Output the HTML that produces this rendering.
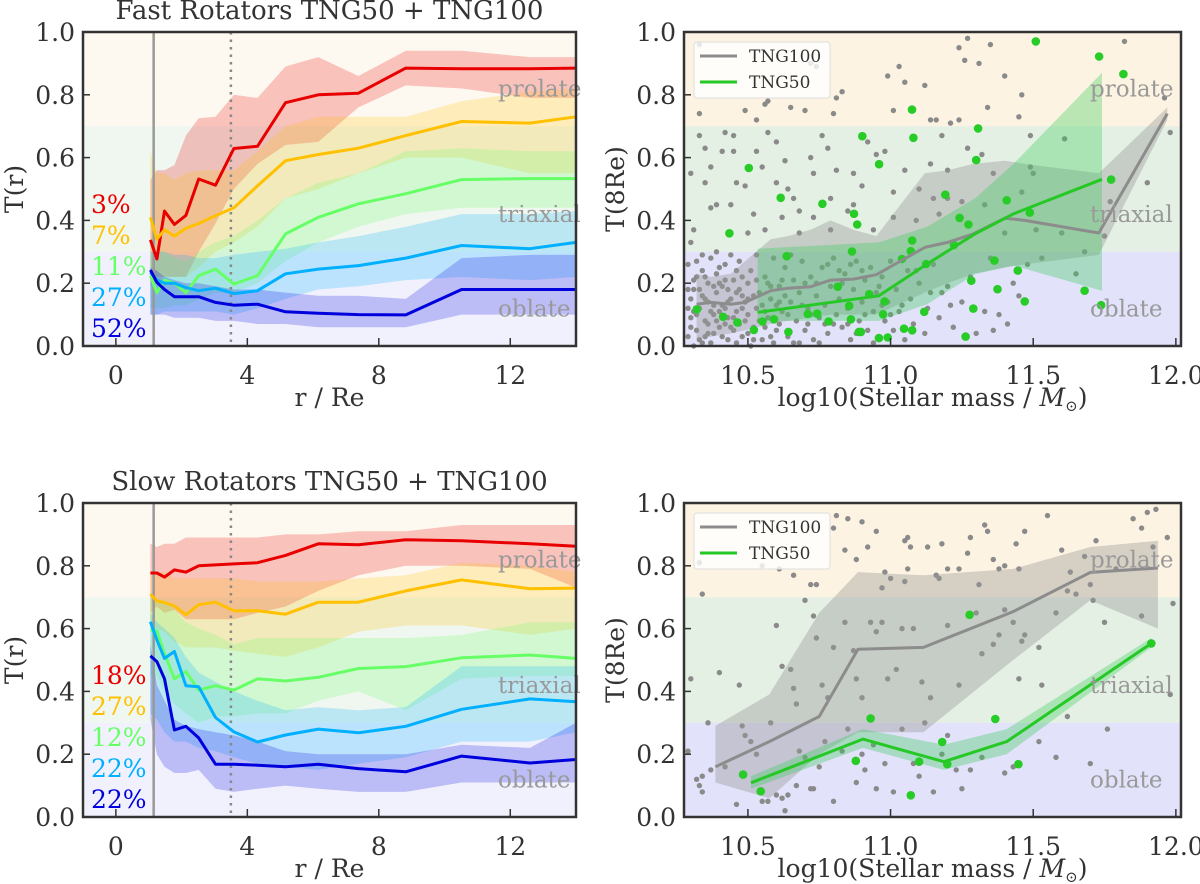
<!DOCTYPE html>
<html><head><meta charset="utf-8"><style>
body{margin:0;background:#fff}
svg{display:block;font-family:"DejaVu Serif","Liberation Serif",serif}
</style></head><body>
<svg id="fig" width="1200" height="884" viewBox="0 0 1200 884" xmlns="http://www.w3.org/2000/svg"></svg>
<script>
// ---------- data ----------
const radii = [1.05,1.25,1.48,1.78,2.13,2.52,3.03,3.59,4.31,5.16,6.16,7.38,8.82,10.52,12.6,14.0];
const seriesColors = ['#e80000','#ffc000','#66ff66','#00b0ff','#0000dd'];
const fastPct = ['3%','7%','11%','27%','52%'];
const slowPct = ['18%','27%','12%','22%','22%'];
const fastMed = [
 [0.338,0.277,0.43,0.387,0.416,0.532,0.512,0.629,0.636,0.775,0.80,0.805,0.885,0.883,0.883,0.885],
 [0.41,0.34,0.37,0.35,0.375,0.39,0.415,0.44,0.51,0.59,0.61,0.63,0.67,0.715,0.71,0.73],
 [0.224,0.17,0.21,0.20,0.17,0.224,0.245,0.197,0.224,0.357,0.41,0.453,0.485,0.53,0.533,0.533],
 [0.235,0.21,0.20,0.20,0.186,0.176,0.184,0.167,0.176,0.23,0.245,0.256,0.28,0.32,0.31,0.33],
 [0.242,0.203,0.18,0.157,0.157,0.157,0.139,0.13,0.133,0.109,0.104,0.10,0.099,0.18,0.18,0.18]];
const fastHi = [
 [0.53,0.56,0.56,0.576,0.67,0.725,0.73,0.80,0.79,0.89,0.92,0.86,0.94,0.94,0.92,0.92],
 [0.62,0.55,0.55,0.53,0.55,0.56,0.56,0.56,0.62,0.70,0.73,0.73,0.73,0.78,0.81,0.82],
 [0.30,0.30,0.30,0.28,0.27,0.30,0.33,0.35,0.40,0.47,0.52,0.55,0.62,0.63,0.62,0.62],
 [0.30,0.30,0.30,0.29,0.29,0.28,0.28,0.29,0.30,0.31,0.33,0.35,0.38,0.42,0.42,0.43],
 [0.25,0.24,0.22,0.21,0.20,0.20,0.19,0.18,0.18,0.17,0.16,0.16,0.15,0.28,0.29,0.29]];
const fastLo = [
 [0.19,0.22,0.22,0.22,0.22,0.30,0.39,0.50,0.58,0.64,0.65,0.76,0.83,0.82,0.79,0.79],
 [0.24,0.20,0.22,0.22,0.22,0.25,0.30,0.33,0.38,0.47,0.50,0.55,0.60,0.60,0.55,0.55],
 [0.12,0.12,0.12,0.13,0.13,0.15,0.17,0.17,0.20,0.27,0.33,0.38,0.42,0.44,0.44,0.44],
 [0.10,0.10,0.11,0.11,0.11,0.11,0.11,0.10,0.12,0.15,0.18,0.19,0.21,0.22,0.21,0.22],
 [0.10,0.10,0.10,0.09,0.09,0.09,0.08,0.08,0.07,0.07,0.06,0.06,0.06,0.10,0.10,0.10]];
const slowMed = [
 [0.777,0.777,0.764,0.787,0.78,0.80,0.803,0.806,0.81,0.833,0.87,0.867,0.883,0.88,0.87,0.862],
 [0.71,0.688,0.683,0.672,0.644,0.676,0.684,0.657,0.657,0.646,0.684,0.684,0.72,0.755,0.727,0.729],
 [0.596,0.593,0.52,0.44,0.463,0.404,0.418,0.404,0.44,0.433,0.445,0.473,0.479,0.507,0.516,0.505],
 [0.622,0.564,0.505,0.527,0.418,0.415,0.317,0.271,0.239,0.261,0.28,0.268,0.289,0.343,0.376,0.367],
 [0.513,0.495,0.44,0.277,0.289,0.252,0.168,0.168,0.165,0.16,0.168,0.154,0.144,0.194,0.172,0.183]];
const slowHi = [
 [0.87,0.86,0.87,0.87,0.89,0.89,0.89,0.89,0.89,0.90,0.90,0.91,0.91,0.93,0.93,0.93],
 [0.77,0.78,0.78,0.76,0.76,0.76,0.76,0.76,0.75,0.75,0.75,0.76,0.77,0.81,0.80,0.78],
 [0.70,0.69,0.69,0.66,0.62,0.60,0.58,0.55,0.57,0.57,0.57,0.57,0.57,0.58,0.62,0.62],
 [0.65,0.62,0.60,0.57,0.51,0.46,0.43,0.40,0.37,0.34,0.35,0.34,0.35,0.48,0.48,0.48],
 [0.55,0.42,0.37,0.31,0.29,0.28,0.27,0.26,0.24,0.21,0.20,0.20,0.20,0.23,0.22,0.30]];
const slowLo = [
 [0.65,0.67,0.65,0.66,0.63,0.63,0.63,0.63,0.65,0.67,0.72,0.77,0.80,0.80,0.79,0.73],
 [0.61,0.60,0.59,0.56,0.54,0.54,0.54,0.53,0.52,0.51,0.54,0.59,0.61,0.61,0.58,0.60],
 [0.45,0.45,0.40,0.36,0.33,0.30,0.32,0.32,0.33,0.33,0.37,0.40,0.34,0.44,0.45,0.45],
 [0.33,0.31,0.27,0.24,0.24,0.22,0.21,0.19,0.17,0.16,0.15,0.17,0.19,0.24,0.24,0.27],
 [0.31,0.20,0.16,0.14,0.14,0.15,0.09,0.08,0.09,0.10,0.09,0.08,0.08,0.11,0.11,0.11]];

const fTng100Mass = [10.32,10.37,10.44,10.49,10.58,10.64,10.72,10.79,10.87,10.95,11.12,11.2,11.29,11.4,11.47,11.73,11.97];
const fTng100Med = [0.133,0.139,0.133,0.139,0.176,0.184,0.189,0.21,0.213,0.227,0.314,0.33,0.357,0.407,0.40,0.36,0.74];
const fTng100Hi = [0.23,0.22,0.23,0.27,0.34,0.35,0.37,0.40,0.37,0.35,0.55,0.56,0.58,0.59,0.58,0.55,0.76];
const fTng100Lo = [0.02,0.03,0.04,0.05,0.07,0.08,0.09,0.10,0.10,0.10,0.17,0.20,0.23,0.25,0.26,0.29,0.72];
const fTng50Mass = [10.534,10.959,11.128,11.296,11.431,11.741];
const fTng50Med = [0.107,0.16,0.261,0.357,0.421,0.531];
const fTng50Hi = [0.31,0.33,0.38,0.47,0.58,0.87];
const fTng50Lo = [0.08,0.08,0.133,0.229,0.256,0.176];
const fGreenPts = [[10.321,0.117],[10.413,0.093],[10.463,0.075],[10.521,0.051],[10.551,0.078],[10.591,0.085],[10.642,0.045],[10.435,0.359],[10.503,0.567],[10.615,0.472],[10.636,0.286],[10.71,0.102],[10.743,0.103],[10.761,0.453],[10.783,0.078],[10.815,0.189],[10.861,0.085],[10.855,0.128],[10.865,0.301],[10.872,0.421],[10.883,0.387],[10.901,0.668],[10.889,0.045],[10.896,0.045],[10.925,0.165],[10.959,0.025],[10.96,0.579],[10.979,0.142],[10.99,0.027],[10.974,0.101],[11.04,0.277],[11.047,0.055],[11.071,0.302],[11.076,0.336],[11.075,0.753],[11.08,0.663],[11.076,0.05],[11.118,0.109],[11.125,0.261],[11.192,0.482],[11.222,0.322],[11.242,0.408],[11.273,0.387],[11.283,0.208],[11.29,0.119],[11.263,0.03],[11.3,0.592],[11.307,0.693],[11.364,0.272],[11.375,0.181],[11.407,0.464],[11.446,0.24],[11.47,0.142],[11.488,0.425],[11.509,0.970],[11.68,0.176],[11.731,0.922],[11.738,0.13],[11.773,0.53],[11.816,0.866]];
const fGrayPts = [[10.33,0.96],[10.33,0.74],[10.49,0.75],[10.53,0.72],[10.56,0.77],[10.57,0.78],[10.65,0.76],[10.70,0.75],[10.72,0.90],[10.74,0.89],[10.80,0.74],[10.81,0.79],[10.83,0.81],[10.99,0.86],[11.03,0.89],[11.05,0.84],[11.12,0.83],[11.01,0.75],[11.14,0.72],[11.16,0.72],[11.24,0.95],[11.27,0.98],[11.26,0.91],[11.31,0.90],[11.35,0.96],[11.40,0.86],[11.34,0.76],[11.45,0.73],[11.46,0.80],[11.24,0.72],[11.21,0.71],[11.61,0.66],[11.49,0.67],[11.96,0.79],[11.82,0.97],[11.9,0.52],[11.98,0.68],[11.75,0.35],[11.77,0.46],[11.68,0.30],[11.65,0.23],[11.53,0.28],[11.50,0.55],[11.41,0.07],[11.36,0.05],[11.45,0.16],[11.33,0.11],[11.21,0.13],[11.18,0.17],[11.36,0.55],[11.20,0.56],[11.18,0.67],[11.20,0.47],
[10.35,0.63],[10.35,0.52],[10.37,0.57],[10.39,0.45],[10.41,0.62],[10.42,0.68],[10.45,0.67],[10.45,0.62],[10.46,0.52],[10.49,0.51],[10.5,0.36],[10.53,0.62],[10.55,0.57],[10.57,0.68],[10.6,0.65],[10.6,0.52],[10.63,0.59],[10.64,0.50],[10.66,0.47],[10.68,0.43],[10.72,0.60],[10.73,0.55],[10.76,0.67],[10.78,0.63],[10.79,0.47],[10.81,0.56],[10.85,0.43],[10.87,0.55],[10.9,0.51],[10.92,0.65],[10.95,0.61],[10.98,0.62],[11.01,0.49],[11.05,0.56],[11.10,0.50],[11.14,0.58],[11.15,0.47],[11.27,0.63],[11.32,0.61],[11.49,0.57],[11.46,0.49],[10.33,0.67],[10.30,0.55],[10.31,0.37],[10.37,0.44],[10.44,0.45],[10.52,0.42],[10.56,0.37],[10.62,0.41],[10.68,0.36],[10.73,0.41],[10.79,0.37],[10.87,0.45],[10.94,0.37],[11.01,0.41],[11.09,0.40],[11.17,0.42],[11.25,0.46],[11.33,0.45],[11.4,0.36],[11.51,0.37],[11.6,0.36],
[10.29,0.03],[10.30,0.09],[10.30,0.15],[10.31,0.21],[10.29,0.26],[10.32,0.05],[10.33,0.12],[10.33,0.18],[10.34,0.24],[10.34,0.01],[10.35,0.08],[10.36,0.14],[10.36,0.20],[10.37,0.28],[10.38,0.04],[10.38,0.10],[10.39,0.17],[10.39,0.23],[10.40,0.06],[10.41,0.13],[10.41,0.19],[10.42,0.26],[10.43,0.02],[10.43,0.09],[10.44,0.15],[10.45,0.21],[10.45,0.05],[10.46,0.11],[10.47,0.18],[10.47,0.27],[10.48,0.03],[10.49,0.08],[10.49,0.14],[10.50,0.20],[10.51,0.24],[10.52,0.06],[10.53,0.12],[10.54,0.17],[10.55,0.02],[10.56,0.22],[10.57,0.09],[10.58,0.15],[10.59,0.28],[10.60,0.05],[10.61,0.19],[10.62,0.11],[10.63,0.25],[10.64,0.03],[10.65,0.14],[10.66,0.21],[10.67,0.08],[10.68,0.17],[10.69,0.27],[10.70,0.05],[10.71,0.12],[10.72,0.22],[10.73,0.02],[10.74,0.16],[10.75,0.09],[10.76,0.25],[10.77,0.13],[10.78,0.04],[10.79,0.19],[10.80,0.28],[10.81,0.10],[10.82,0.15],[10.83,0.06],[10.84,0.23],[10.85,0.12],[10.86,0.02],[10.87,0.18],[10.88,0.27],[10.89,0.08],[10.90,0.14],[10.91,0.21],[10.92,0.05],[10.93,0.25],[10.94,0.11],[10.95,0.17],[10.96,0.03],[10.97,0.22],[10.98,0.08],[10.99,0.14],[11.00,0.27],[11.01,0.05],[11.02,0.18],[11.03,0.11],[11.05,0.02],[11.06,0.24],[11.07,0.15],[11.08,0.07],[11.10,0.20],[11.12,0.04],[11.13,0.12],[11.15,0.26],[11.17,0.09],[11.20,0.19],[11.22,0.06],[11.25,0.14],[11.28,0.22],[11.30,0.04],[11.35,0.28],[11.38,0.10],[11.43,0.20],[11.48,0.26],
[10.29,0.12],[10.31,0.00],[10.32,0.27],[10.35,0.03],[10.37,0.11],[10.40,0.25],[10.42,0.07],[10.44,0.29],[10.46,0.01],[10.48,0.16],[10.50,0.10],[10.51,0.00],[10.53,0.29],[10.55,0.13],[10.57,0.20],[10.59,0.01],[10.61,0.07],[10.63,0.16],[10.65,0.29],[10.68,0.01],[10.70,0.20],[10.72,0.10],[10.75,0.01],[10.78,0.26],[10.80,0.07],[10.83,0.20],[10.86,0.26],[10.88,0.04],[10.91,0.10],[10.94,0.01],[10.97,0.13],
[10.30,0.06],[10.31,0.18],[10.32,0.10],[10.33,0.02],[10.34,0.16],[10.35,0.22],[10.36,0.07],[10.37,0.01],[10.38,0.13],[10.39,0.08],[10.40,0.20],[10.41,0.03],[10.42,0.12],[10.43,0.18],[10.44,0.06],[10.46,0.24],[10.47,0.07],[10.48,0.12],[10.50,0.04],[10.52,0.16],[10.54,0.08],[10.56,0.11],[10.58,0.03],[10.60,0.13],[10.62,0.21],
[10.29,0.18],[10.30,0.33],[10.31,0.11],[10.32,0.22],[10.34,0.29],[10.35,0.15],[10.36,0.04],[10.38,0.19],[10.39,0.30],[10.40,0.11],[10.42,0.21],[10.43,0.14],[10.45,0.09],[10.46,0.17],[10.48,0.22],[10.50,0.15],[10.52,0.02],[10.53,0.21],[10.56,0.06],[10.58,0.19],[10.61,0.14],[10.64,0.10],[10.66,0.01],[10.69,0.13],[10.71,0.07],[10.74,0.20],[10.77,0.07],[10.82,0.24],[10.85,0.07],[10.90,0.24],[10.93,0.16],[10.96,0.19],[11.00,0.10],[11.04,0.13],[11.09,0.24],[11.14,0.17]];

const sTng100Mass = [10.386,10.575,10.75,10.886,11.115,11.43,11.70,11.937];
const sTng100Med = [0.16,0.24,0.32,0.534,0.54,0.654,0.779,0.793];
const sTng100Hi = [0.29,0.39,0.65,0.78,0.77,0.79,0.86,0.88];
const sTng100Lo = [0.11,0.06,0.20,0.27,0.27,0.50,0.69,0.60];
const sTng50Mass = [10.511,10.903,11.187,11.407,11.914];
const sTng50Med = [0.109,0.248,0.176,0.24,0.553];
const sTng50Hi = [0.13,0.28,0.23,0.28,0.57];
const sTng50Lo = [0.09,0.22,0.15,0.20,0.54];
const sGreenPts = [[10.483,0.135],[10.545,0.082],[10.878,0.179],[10.93,0.314],[11.071,0.069],[11.1,0.176],[11.181,0.239],[11.199,0.168],[11.277,0.644],[11.367,0.312],[11.448,0.168],[11.914,0.553]];
const sGrayPts = [[10.55,0.80],[10.61,0.79],[10.66,0.77],[10.72,0.74],[10.74,0.74],[10.81,0.96],[10.80,0.92],[10.85,0.95],[10.84,0.85],[10.90,0.94],[10.88,0.82],[10.92,0.86],[10.95,0.91],[10.98,0.78],[11.00,0.76],[10.97,0.73],[11.05,0.88],[11.06,0.89],[11.07,0.86],[11.06,0.79],[11.05,0.75],[11.13,0.86],[11.16,0.77],[11.18,0.87],[11.17,0.76],[11.20,0.79],[11.24,0.79],[11.27,0.84],[11.28,0.89],[11.31,0.74],[11.33,0.93],[11.34,0.91],[11.36,0.82],[11.38,0.79],[11.40,0.80],[11.44,0.87],[11.45,0.79],[11.47,0.91],[11.55,0.96],[11.60,0.85],[11.63,0.78],[11.65,0.71],[11.68,0.83],[11.72,0.88],[11.79,0.79],[11.85,0.95],[11.88,0.92],[11.90,0.97],[11.92,0.86],[11.93,0.98],[11.97,0.89],[11.99,0.68],[11.70,0.74],[11.71,0.69],[10.33,0.81],
[10.30,0.44],[10.34,0.71],[10.40,0.46],[10.47,0.42],[10.60,0.61],[10.62,0.48],[10.65,0.47],[10.66,0.41],[10.67,0.36],[10.70,0.69],[10.73,0.64],[10.74,0.57],[10.76,0.42],[10.78,0.38],[10.80,0.54],[10.84,0.62],[10.87,0.53],[10.88,0.44],[10.90,0.38],[10.93,0.62],[10.95,0.59],[10.97,0.62],[10.99,0.44],[11.02,0.47],[11.04,0.60],[11.08,0.60],[11.11,0.43],[11.14,0.38],[11.20,0.61],[11.24,0.42],[11.30,0.65],[11.32,0.52],[11.36,0.55],[11.40,0.66],[11.43,0.62],[11.46,0.56],[11.52,0.54],[11.58,0.65],[11.62,0.72],[11.75,0.62],[11.88,0.64],[11.98,0.39],[11.45,0.44],[11.53,0.42],[11.38,0.58],[11.47,0.58],
[10.29,0.21],[10.32,0.12],[10.33,0.10],[10.34,0.13],[10.34,0.08],[10.36,0.30],[10.37,0.15],[10.42,0.16],[10.46,0.04],[10.48,0.29],[10.49,0.26],[10.51,0.24],[10.53,0.20],[10.55,0.05],[10.57,0.05],[10.58,0.30],[10.60,0.07],[10.62,0.06],[10.63,0.02],[10.64,0.07],[10.68,0.21],[10.70,0.19],[10.72,0.09],[10.73,0.09],[10.75,0.16],[10.77,0.24],[10.80,0.05],[10.83,0.21],[10.88,0.11],[10.91,0.15],[10.94,0.23],[10.98,0.17],[11.01,0.08],[11.04,0.28],[11.08,0.17],[11.10,0.13],[11.12,0.30],[11.15,0.08],[11.18,0.20],[11.23,0.15],[11.25,0.09],[11.28,0.15],[11.32,0.19],[11.40,0.14],[11.43,0.16],[11.52,0.24],[11.58,0.19],[11.70,0.17],[11.76,0.28],[11.62,0.32],[10.90,0.20],[10.67,0.10],[10.85,0.28],[10.95,0.09],[11.20,0.26]];

const rTicks = [0,4,8,12];
const mTicks = [10.5,11.0,11.5,12.0];
const tTicks = [0.0,0.2,0.4,0.6,0.8,1.0];

// ---------- drawing ----------
const NS = 'http://www.w3.org/2000/svg';
const svg = document.getElementById('fig');
function mk(tag, attrs, parent, text){
  const e = document.createElementNS(NS, tag);
  for (const k in attrs) e.setAttribute(k, attrs[k]);
  if (text !== undefined) e.textContent = text;
  (parent || svg).appendChild(e);
  return e;
}
function panel(x0, y0, x1, y1, xmin, xmax){
  const sx = v => x0 + (v - xmin) / (xmax - xmin) * (x1 - x0);
  const sy = v => y1 - v * (y1 - y0);
  return {x0,y0,x1,y1,sx,sy};
}
function bands(p, cols, name){
  const g = mk('g', {});
  
  
  const lims = [[0.7,1.0],[0.3,0.7],[0.0,0.3]];
  lims.forEach((l,i)=>{
    const r = mk('rect',{x:p.x0,y:p.sy(l[1]),width:p.x1-p.x0,height:p.sy(l[0])-p.sy(l[1]),fill:cols[i]},g);
    
    
  });
}
function area(p, xs, hi, lo, fill, op, name){
  let d = '';
  xs.forEach((x,i)=>{ d += (i?'L':'M') + p.sx(x).toFixed(1)+','+p.sy(hi[i]).toFixed(1); });
  for (let i=xs.length-1;i>=0;i--) d += 'L'+p.sx(xs[i]).toFixed(1)+','+p.sy(lo[i]).toFixed(1);
  const e = mk('path',{d:d+'Z',fill:fill,'fill-opacity':op,stroke:'none'});
  
  
}
function line(p, xs, ys, col, w, name){
  const pts = xs.map((x,i)=>p.sx(x).toFixed(1)+','+p.sy(ys[i]).toFixed(1)).join(' ');
  const e = mk('polyline',{points:pts,fill:'none',stroke:col,'stroke-width':w,'stroke-linejoin':'round'});
  
  
}
function dots(p, pts, col, r, name){
  const g = mk('g',{fill:col});
  
  
  pts.forEach(q=>{
    if (q[0] < 10.28 || q[0] > 12.02) return;
    const c = mk('circle',{cx:p.sx(q[0]).toFixed(1),cy:p.sy(q[1]).toFixed(1),r:r},g);
    
    
  });
}
function frame(p, xt, xl, yl, title, xlabFmt){
  const g = mk('g',{});
  
  
  tTicks.forEach(t=>{
    mk('line',{x1:p.x0,x2:p.x0+7,y1:p.sy(t),y2:p.sy(t),stroke:'#333','stroke-width':1.5},g);
    const tx = mk('text',{x:p.x0-8,y:p.sy(t)+9,'text-anchor':'end','font-size':25,fill:'#333'},g,t.toFixed(1));
    
    
  });
  xt.forEach(t=>{
    mk('line',{x1:p.sx(t),x2:p.sx(t),y1:p.y1,y2:p.y1-8,stroke:'#333','stroke-width':1.5},g);
    const tx = mk('text',{x:p.sx(t),y:p.y1+38,'text-anchor':'middle','font-size':25,fill:'#333'},g,xlabFmt(t));
    
    
  });
  mk('rect',{x:p.x0,y:p.y0,width:p.x1-p.x0,height:p.y1-p.y0,fill:'none',stroke:'#333','stroke-width':2.5},g);
  const xlab = mk('text',{x:(p.x0+p.x1)/2,y:p.y1+60,'text-anchor':'middle','font-size':25,fill:'#333'},g);
  
  
  if (xl === 'mass'){
    xlab.textContent = 'log10(Stellar mass / ';
    mk('tspan',{'font-style':'italic'},xlab,'M');
    mk('tspan',{'font-size':15,dy:5},xlab,'\u2299');
    mk('tspan',{dy:-5},xlab,')');
  } else xlab.textContent = xl;
  const cy = (p.y0+p.y1)/2, cx = p.x0-60;
  const ylab = mk('text',{x:cx,y:cy,'text-anchor':'middle','font-size':25,fill:'#333',transform:'rotate(-90 '+cx+' '+cy+')'},g,yl);
  
  
  if (title){
    const tt = mk('text',{x:(p.x0+p.x1)/2,y:p.y0-13,'text-anchor':'middle','font-size':26,fill:'#333'},g,title);
    
    
  }
}
function regionLabels(p, x){
  [['prolate',0.82],['triaxial',0.42],['oblate',0.12]].forEach(l=>{
    const t = mk('text',{x:x,y:p.sy(l[1])+8,'font-size':23,fill:'#999'},undefined,l[0]);
    
    
  });
}
function radialPanel(p, med, hi, lo, pct, title){
  bands(p, ['#fef9f0','#f0f7f0','#f1f1fd'], 'background-regions');
  for (let i=0;i<5;i++) area(p, radii, hi[i], lo[i], seriesColors[i], 0.22, 'band-'+i);
  const vl = mk('line',{x1:p.sx(1.15),x2:p.sx(1.15),y1:p.y0,y2:p.y1,stroke:'#999','stroke-width':2.5});
  
  
  const dl = mk('line',{x1:p.sx(3.5),x2:p.sx(3.5),y1:p.y0,y2:p.y1,stroke:'#888','stroke-width':2.5,'stroke-dasharray':'2.5,5'});
  
  
  for (let i=0;i<5;i++) line(p, radii, med[i], seriesColors[i], 3, 'median-line-'+i);
  regionLabels(p, p.x0+415);
  pct.forEach((s,i)=>{
    const t = mk('text',{x:p.x0+8,y:p.y1-18-31*(4-i)+9,'font-size':25,fill:seriesColors[i]},undefined,s);
    
    
  });
  frame(p, rTicks, 'r / Re', 'T(r)', title, t=>String(t));
}
function massPanel(p, gray, green, aM,aMed,aHi,aLo, bM,bMed,bHi,bLo){
  bands(p, ['#fdf3e2','#e4f0e4','#e2e2fa'], 'background-regions');
  dots(p, gray, '#8a8a8a', 2.7, 'tng100-galaxy');
  area(p, aM, aHi, aLo, '#999999', 0.4, 'tng100-band');
  area(p, bM, bHi, bLo, '#33cc55', 0.33, 'tng50-band');
  dots(p, green, '#27cc27', 4.3, 'tng50-galaxy');
  line(p, aM, aMed, '#8c8c8c', 3, 'tng100-median');
  line(p, bM, bMed, '#25c825', 3, 'tng50-median');
  regionLabels(p, p.x0+406);
  const lg = mk('g',{});
  
  
  mk('rect',{x:p.x0+10,y:p.y0+10,width:136,height:56,rx:3,fill:'#fff','fill-opacity':0.8,stroke:'#ddd'},lg);
  mk('line',{x1:p.x0+16,x2:p.x0+53,y1:p.y0+24,y2:p.y0+24,stroke:'#8c8c8c','stroke-width':3},lg);
  mk('line',{x1:p.x0+16,x2:p.x0+53,y1:p.y0+50,y2:p.y0+50,stroke:'#25c825','stroke-width':3},lg);
  const a = mk('text',{x:p.x0+65,y:p.y0+30,'font-size':17,fill:'#333'},lg,'TNG100');
  
  
  const b = mk('text',{x:p.x0+65,y:p.y0+56,'font-size':17,fill:'#333'},lg,'TNG50');
  
  
  frame(p, mTicks, 'mass', 'T(8Re)', null, t=>t.toFixed(1));
}

radialPanel(panel(83,32,576,346,-1,14), fastMed, fastHi, fastLo, fastPct, 'Fast Rotators TNG50 + TNG100');
radialPanel(panel(83,503,576,817,-1,14), slowMed, slowHi, slowLo, slowPct, 'Slow Rotators TNG50 + TNG100');
massPanel(panel(684,32,1181,346,10.276,12.018), fGrayPts, fGreenPts, fTng100Mass,fTng100Med,fTng100Hi,fTng100Lo, fTng50Mass,fTng50Med,fTng50Hi,fTng50Lo);
massPanel(panel(684,503,1181,817,10.276,12.018), sGrayPts, sGreenPts, sTng100Mass,sTng100Med,sTng100Hi,sTng100Lo, sTng50Mass,sTng50Med,sTng50Hi,sTng50Lo);
</script>
</body></html>
